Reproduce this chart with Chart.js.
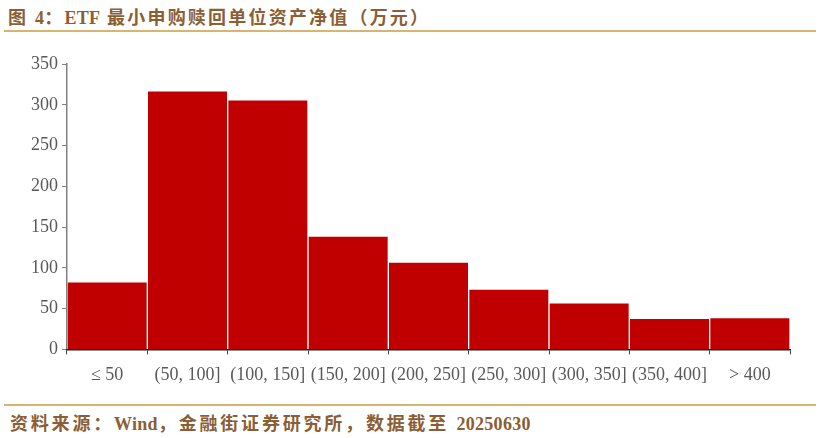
<!DOCTYPE html>
<html>
<head>
<meta charset="utf-8">
<script src="https://cdn.jsdelivr.net/npm/chart.js@4.4.1/dist/chart.umd.min.js"></script>
<style>
  body { margin: 0; width: 820px; height: 438px; background: #fff; position: relative; overflow: hidden; }
  .title { position: absolute; left: 8px; top: 3px; font: bold 18px "Liberation Serif", "Noto Sans CJK SC", serif; color: #8B5E34; letter-spacing: 2.2px; white-space: nowrap; }
  .rule { position: absolute; left: 4px; width: 812px; height: 1.5px; background: #D9B46E; }
  .source { position: absolute; left: 10px; top: 409px; font: bold 18px "Liberation Serif", "Noto Sans CJK SC", serif; color: #8B5E34; letter-spacing: 2.8px; white-space: nowrap; }
  .lat { letter-spacing: 0.3px; }
  #wrap { position: absolute; left: 0; top: 45px; width: 820px; height: 351px; }
</style>
</head>
<body>
<div class="title">图 <span class="lat">4</span>：<span class="lat">ETF</span> 最小申购赎回单位资产净值（万元）</div>
<div class="rule" style="top:30px"></div>
<div id="wrap"><canvas id="chart"></canvas></div>
<div class="rule" style="top:404px"></div>
<div class="source">资料来源：<span class="lat">Wind</span>，金融街证券研究所，数据截至 <span class="lat">20250630</span></div>
<script>
const categories = ['≤ 50', '(50, 100]', '(100, 150]', '(150, 200]', '(200, 250]', '(250, 300]', '(300, 350]', '(350, 400]', '> 400'];
const counts = [83, 317, 306, 139, 107, 74, 57, 38, 39];
const yTicks = [0, 50, 100, 150, 200, 250, 300, 350];

const tickFont = { family: '"Liberation Serif", "Times New Roman", serif', size: 18 };

new Chart(document.getElementById('chart').getContext('2d'), {
    type: 'bar',
    data: {
        labels: categories,
        datasets: [{
            data: counts,
            backgroundColor: '#C00000',
            borderColor: 'rgba(255,255,255,0.45)',
            borderWidth: 1,
            barPercentage: 1.0,
            categoryPercentage: 1.0
        }]
    },
    options: {
        responsive: true,
        maintainAspectRatio: false,
        animation: false,
        layout: { padding: { top: 19, right: 30, left: 0, bottom: 0 } },
        plugins: {
            legend: { display: false },
            tooltip: { enabled: false }
        },
        scales: {
            y: {
                min: 0,
                max: 350,
                afterBuildTicks: (scale) => { scale.ticks = yTicks.map(v => ({ value: v })); },
                afterFit: (scale) => { scale.width = 67; },
                border: { color: '#808080', width: 1.5 },
                grid: { drawOnChartArea: false, drawTicks: true, tickLength: 5, color: '#808080' },
                ticks: { color: '#595959', font: tickFont, padding: 4 }
            },
            x: {
                offset: true,
                border: { color: '#222', width: 1.5 },
                grid: { offset: true, drawOnChartArea: false, drawTicks: true, tickLength: 5, color: '#444' },
                ticks: { color: '#595959', font: tickFont, padding: 10, maxRotation: 0, autoSkip: false }
            }
        }
    }
});
</script>
</body>
</html>
